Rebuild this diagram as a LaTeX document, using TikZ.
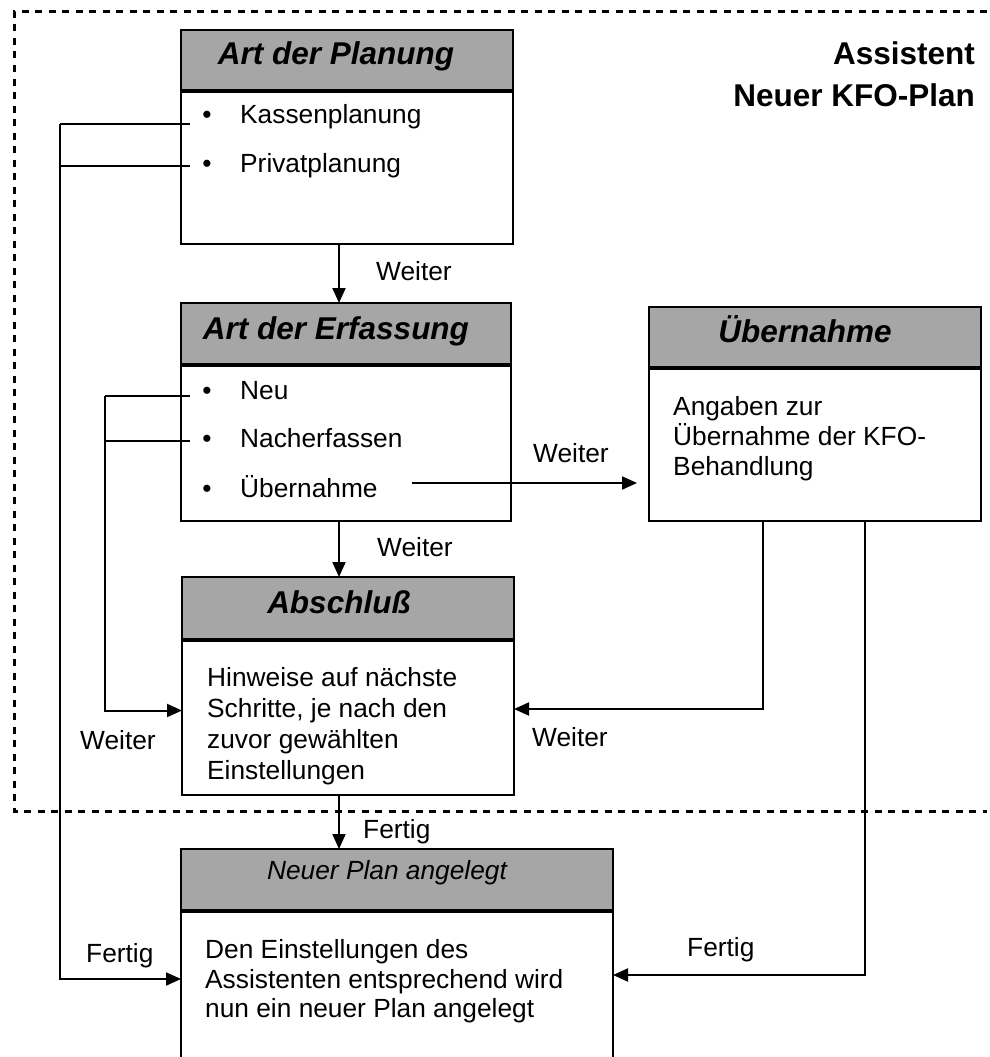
\documentclass[tikz,border=0pt]{standalone}
\usepackage{fontspec}
\setmainfont{Liberation Sans}
\usetikzlibrary{arrows.meta}
\definecolor{hdrgray}{RGB}{166,166,166}
\tikzset{
  hdr/.style={draw=black, line width=2.5pt, fill=hdrgray, anchor=north west, inner sep=0pt, outer sep=0pt},
  bodybox/.style={draw=black, line width=2.5pt, fill=white, anchor=north west, inner sep=0pt, outer sep=0pt},
  divider/.style={line width=4.5pt},
  ttl/.style={font=\fontsize{31.5}{36}\selectfont\bfseries\itshape, inner sep=0pt, anchor=base},
  txt/.style={font=\fontsize{26.3}{30}\selectfont, inner sep=0pt, anchor=base west},
  bul/.style={font=\fontsize{26.3}{30}\selectfont, inner sep=0pt, anchor=base},
  conn/.style={line width=2pt},
  arr/.style={line width=2pt, -{Triangle[length=15pt,width=13pt]}},
  frame/.style={line width=3pt, dash pattern=on 7pt off 6.5pt},
}
\begin{document}
\begin{tikzpicture}[x=1pt,y=-1pt]
\clip (0,0) rectangle (989,1057);
\fill[white] (0,0) rectangle (989,1057);

% dotted frame
\coordinate (fr1) at (987,12);
\coordinate (fr2) at (14,12);
\coordinate (fr3) at (14,811);
\coordinate (fr4) at (987,811);
\draw[frame] (fr1) -- (fr2) -- (fr3) -- (fr4);

% box 1
\node[hdr, minimum width=332pt, minimum height=61pt] (h1) at (181,30) {};
\node[bodybox, minimum width=332pt, minimum height=153pt] (b1) at (181,91) {};
\draw[divider] (h1.south west) -- (h1.south east);
\node[ttl] (t1) at (336,64) {Art der Planung};
\node[bul] (p1a) at (207,123) {\textbullet};
\node[txt] (l1a) at (240,123) {Kassenplanung};
\node[bul] (p1b) at (207,172) {\textbullet};
\node[txt] (l1b) at (240,172) {Privatplanung};

% box 2
\node[hdr, minimum width=330pt, minimum height=62pt] (h2) at (181,303) {};
\node[bodybox, minimum width=330pt, minimum height=156pt] (b2) at (181,365) {};
\draw[divider] (h2.south west) -- (h2.south east);
\node[ttl] (t2) at (336,339) {Art der Erfassung};
\node[bul] (p2a) at (207,399) {\textbullet};
\node[txt] (l2a) at (240,399) {Neu};
\node[bul] (p2b) at (207,447) {\textbullet};
\node[txt] (l2b) at (240,447) {Nacherfassen};
\node[bul] (p2c) at (207,497) {\textbullet};
\node[txt] (l2c) at (240,497) {Übernahme};

% box 3
\node[hdr, minimum width=332pt, minimum height=61pt] (h3) at (649,307) {};
\node[bodybox, minimum width=332pt, minimum height=153pt] (b3) at (649,368) {};
\draw[divider] (h3.south west) -- (h3.south east);
\node[ttl] (t3) at (805,342) {Übernahme};
\node[txt] (l3a) at (673,415) {Angaben zur};
\node[txt] (l3b) at (673,445) {Übernahme der KFO-};
\node[txt] (l3c) at (673,475) {Behandlung};

% box 4
\node[hdr, minimum width=332pt, minimum height=63pt] (h4) at (182,577) {};
\node[bodybox, minimum width=332pt, minimum height=155pt] (b4) at (182,640) {};
\draw[divider] (h4.south west) -- (h4.south east);
\node[ttl] (t4) at (339,613) {Abschluß};
\node[txt] (l4a) at (207,686.5) {Hinweise auf nächste};
\node[txt] (l4b) at (207,717.5) {Schritte, je nach den};
\node[txt] (l4c) at (207,748.5) {zuvor gewählten};
\node[txt] (l4d) at (207,779.5) {Einstellungen};

% box 5
\node[hdr, minimum width=432pt, minimum height=62pt] (h5) at (181,849) {};
\node[bodybox, minimum width=432pt, minimum height=180pt] (b5) at (181,911) {};
\draw[divider] (h5.south west) -- (h5.south east);
\node[font=\fontsize{26.3}{30}\selectfont\itshape, inner sep=0pt, anchor=base] (t5) at (387,879) {Neuer Plan angelegt};
\node[txt] (l5a) at (205,958.5) {Den Einstellungen des};
\node[txt] (l5b) at (205,988) {Assistenten entsprechend wird};
\node[txt] (l5c) at (205,1017) {nun ein neuer Plan angelegt};

% title
\node[font=\fontsize{31.5}{36}\selectfont\bfseries, inner sep=0pt, anchor=base east] (as1) at (975,65) {Assistent};
\node[font=\fontsize{31.5}{36}\selectfont\bfseries, inner sep=0pt, anchor=base east] (as2) at (975,106.5) {Neuer KFO-Plan};

% vertical flow arrows
\coordinate (v1) at (339,244);
\draw[arr] (v1) -- (v1 |- h2.north);
\coordinate (v2) at (339,521);
\draw[arr] (v2) -- (v2 |- h4.north);
\coordinate (v3) at (339,795);
\draw[arr] (v3) -- (v3 |- h5.north);

% left outer loop (Kassen/Privat -> Neuer Plan)
\coordinate (k1) at (190,123.5);
\coordinate (k1c) at (60,123.5);
\coordinate (k2) at (190,165.5);
\coordinate (k2c) at (60,165.5);
\coordinate (k3c) at (60,979);
\coordinate (k3e) at (181,979);
\draw[conn] (k1) -- (k1c);
\draw[conn] (k2) -- (k2c);
\draw[arr] (k1c) -- (k3c) -- (k3e);

% inner loop (Neu/Nacherfassen -> Abschluss)
\coordinate (n1) at (190,396);
\coordinate (n1c) at (105,396);
\coordinate (n2) at (190,441);
\coordinate (n2c) at (105,441);
\coordinate (n3c) at (105,710.5);
\coordinate (n3e) at (182,710.5);
\draw[conn] (n1) -- (n1c);
\draw[conn] (n2) -- (n2c);
\draw[arr] (n1c) -- (n3c) -- (n3e);

% Uebernahme -> box 3
\coordinate (u1) at (412,483);
\coordinate (u2) at (637,483);
\draw[arr] (u1) -- (u2);

% box 3 -> Abschluss
\coordinate (r1) at (763,521);
\coordinate (r1c) at (763,709);
\coordinate (r1e) at (514,709);
\draw[arr] (r1) -- (r1c) -- (r1e);

% box 3 -> Neuer Plan
\coordinate (s1) at (865,521);
\coordinate (s1c) at (865,975);
\coordinate (s1e) at (613,975);
\draw[arr] (s1) -- (s1c) -- (s1e);

% labels
\node[txt] (w1) at (376,280) {Weiter};
\node[txt] (w2) at (377,556) {Weiter};
\node[txt] (w3) at (533,462) {Weiter};
\node[txt] (w4) at (80,749) {Weiter};
\node[txt] (w5) at (532,746) {Weiter};
\node[txt] (f1) at (363,838) {Fertig};
\node[txt] (f2) at (86,962) {Fertig};
\node[txt] (f3) at (687,956) {Fertig};
\end{tikzpicture}
\end{document}
